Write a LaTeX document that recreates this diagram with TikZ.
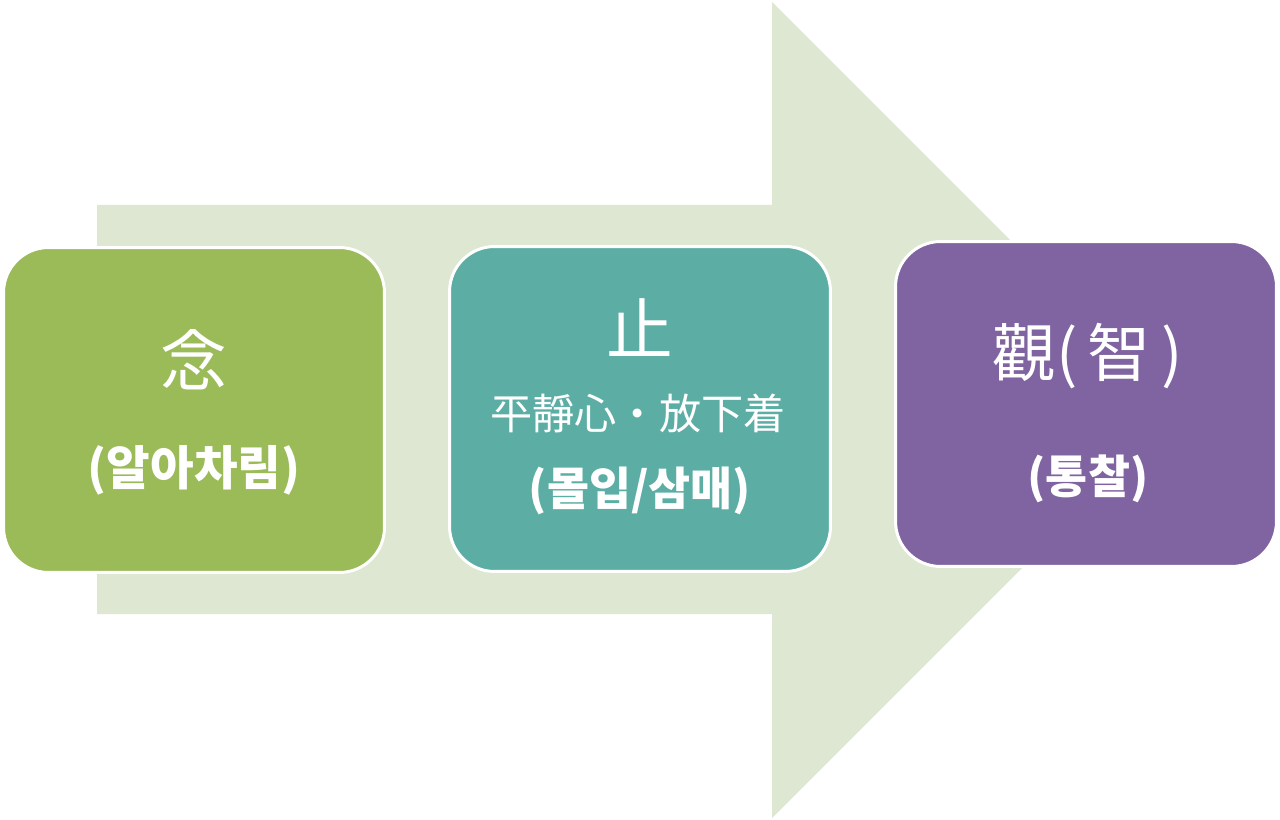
\documentclass[tikz,border=0pt]{standalone}
\usepackage{fontspec}
\newfontfamily\hangul{Noto Sans CJK KR}
\usetikzlibrary{positioning}
\definecolor{flecha}{HTML}{DEE7D2}
\definecolor{verde}{HTML}{9BBB59}
\definecolor{turquesa}{HTML}{5CAEA5}
\definecolor{violeta}{HTML}{8064A2}
\newcommand{\tam}[1]{\fontsize{#1}{#1}\selectfont}

\begin{document}
\begin{tikzpicture}[x=0.02cm, y=-0.02cm, font=\hangul, text=white]
	\useasboundingbox (0,0) rectangle (1280,820);
	\fill[flecha] (97,205) -- (772,205) -- (772,2) -- (1180,410)
		-- (772,818) -- (772,614) -- (97,614) -- cycle;
	\foreach \n/\x/\y/\c in {nian/194/410/verde, zhi/640/409/turquesa, guan/1086/404/violeta} {
		\node[fill=\c, draw=white, line width=1.7pt, rounded corners=0.9cm,
		      minimum width=7.62cm, minimum height=6.5cm] (\n) at (\x,\y) {};
	}
	\node[font=\hangul\tam{38}] (nian-t) at (194,360) {念};
	\node[font=\hangul\bfseries\tam{27}] (nian-k) at (194,470) {(알아차림)};
	\node[font=\hangul\tam{38}] (zhi-t) at (640,328) {止};
	\node[font=\hangul\tam{24}] (zhi-h) at (638,413) {平靜心・放下着};
	\node[font=\hangul\bfseries\tam{26}] (zhi-k) at (640,491) {(몰입/삼매)};
	\node[font=\hangul\tam{36}] (guan-t) at (1088,356) {觀(\,智\,)};
	\node[font=\hangul\bfseries\tam{26}] (guan-k) at (1088,479) {(통찰)};
\end{tikzpicture}
\end{document}
